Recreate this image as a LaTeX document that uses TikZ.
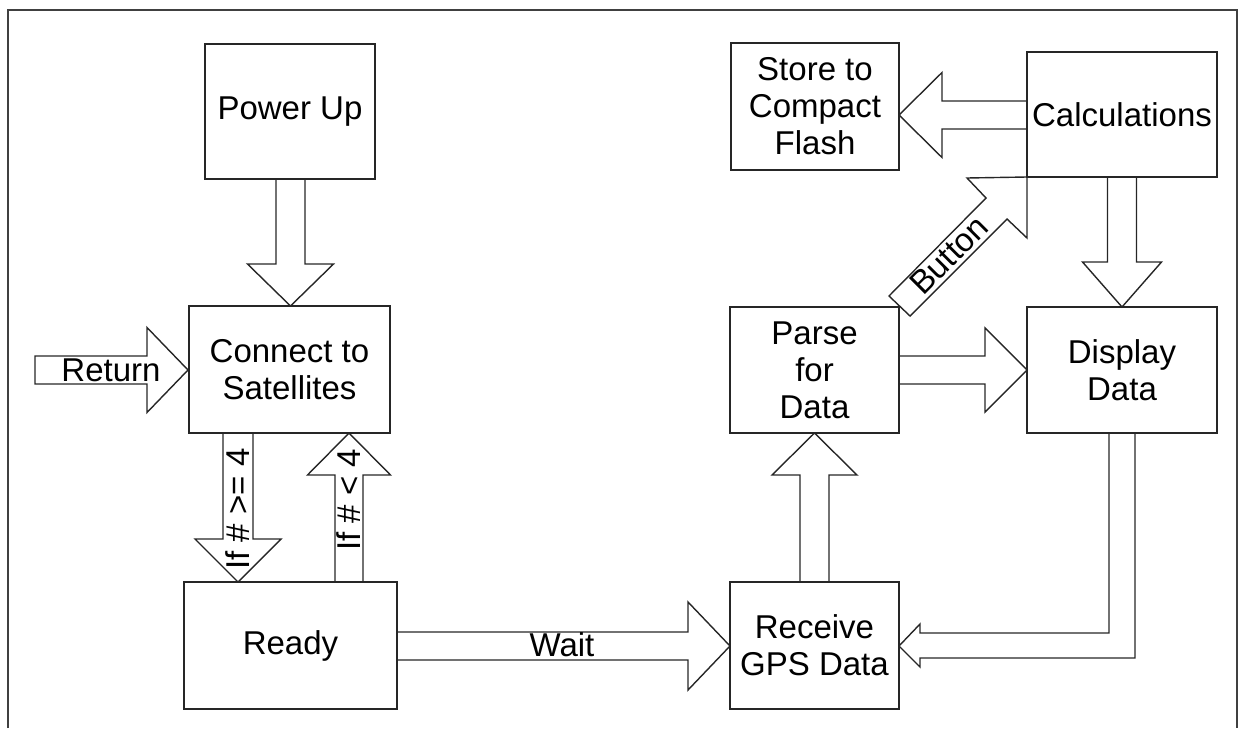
\documentclass[tikz,border=0pt]{standalone}
\usepackage{fontspec}
\setmainfont{Liberation Sans}
\newcommand\harw[6]{% tail x, tip x, y centre, shaft half, head half, base x
  \draw[blk] (#1,#3-#4) -- (#6,#3-#4) -- (#6,#3-#5) -- (#2,#3) -- (#6,#3+#5) -- (#6,#3+#4) -- (#1,#3+#4);}
\newcommand\varw[6]{% tail y, tip y, x centre, shaft half, head half, base y
  \draw[blk] (#3-#4,#1) -- (#3-#4,#6) -- (#3-#5,#6) -- (#3,#2) -- (#3+#5,#6) -- (#3+#4,#6) -- (#3+#4,#1);}
\begin{document}
\begin{tikzpicture}[x=1pt,y=-1pt,
  box/.style={draw=black!85,line width=1.8pt,minimum width=#1,inner sep=0pt,align=center,font=\fontsize{33}{37}\selectfont},
  blk/.style={draw=black!85,line width=1.4pt,line join=miter},
  lbl/.style={font=\fontsize{33}{37}\selectfont,inner sep=0pt}]
\useasboundingbox (0,0) rectangle (1238,728);
\draw[draw=black!75,line width=1.8pt] (8,728) -- (8,10) -- (1237,10) -- (1237,728);
% boxes
\node[box=170pt,minimum height=135pt] (pwr) at (290,111.5) {Power Up};
\node[box=168pt,minimum height=127pt] (store) at (815,106.5) {Store to\\Compact\\Flash};
\node[box=190pt,minimum height=125pt] (calc) at (1122,114.5) {Calculations};
\node[box=201pt,minimum height=127pt] (conn) at (289.5,369.5) {Connect to\\Satellites};
\node[box=169pt,minimum height=126pt] (parse) at (814.5,370) {Parse\\for\\Data};
\node[box=190pt,minimum height=126pt] (disp) at (1122,370) {Display\\Data};
\node[box=213pt,minimum height=127pt] (ready) at (290.5,645.5) {Ready};
\node[box=169pt,minimum height=127pt] (recv) at (814.5,645.5) {Receive\\GPS Data};
% block arrows
\varw{179}{306}{290.5}{14.5}{43}{264}
\draw[blk] (35,356) -- (147,356) -- (147,327.5) -- (188,370) -- (147,412.5) -- (147,384) -- (35,384) -- cycle;
\node[lbl] (ret) at (111,370) {Return};
\varw{433}{582}{238}{15}{43}{539}
\node[lbl,rotate=90] (ge) at (238,509) {If \# >= 4};
\varw{582}{433}{349}{14}{41.5}{475}
\node[lbl,rotate=90] (lt) at (349,500) {If \# < 4};
\harw{397}{730}{646}{14}{44}{688}
\node[lbl] (wait) at (562,645) {Wait};
\varw{582}{433}{814.5}{14.5}{42.5}{475}
\harw{899}{1027}{370}{14}{42}{985}
\varw{177}{307}{1122}{14.5}{39.5}{262}
\harw{1027}{899}{115}{14}{42.5}{942}
\draw[blk] (1109,433) -- (1109,633) -- (920,633) -- (920,624) -- (899,646) -- (920,667) -- (920,658) -- (1135,658) -- (1135,433);
\draw[blk] (889,296) -- (986,198) -- (967,178) -- (1027,177) -- (1027,238) -- (1007,219) -- (910,316) -- cycle;
\node[lbl,rotate=45] (btn) at (949,255) {Button};
\end{tikzpicture}
\end{document}
